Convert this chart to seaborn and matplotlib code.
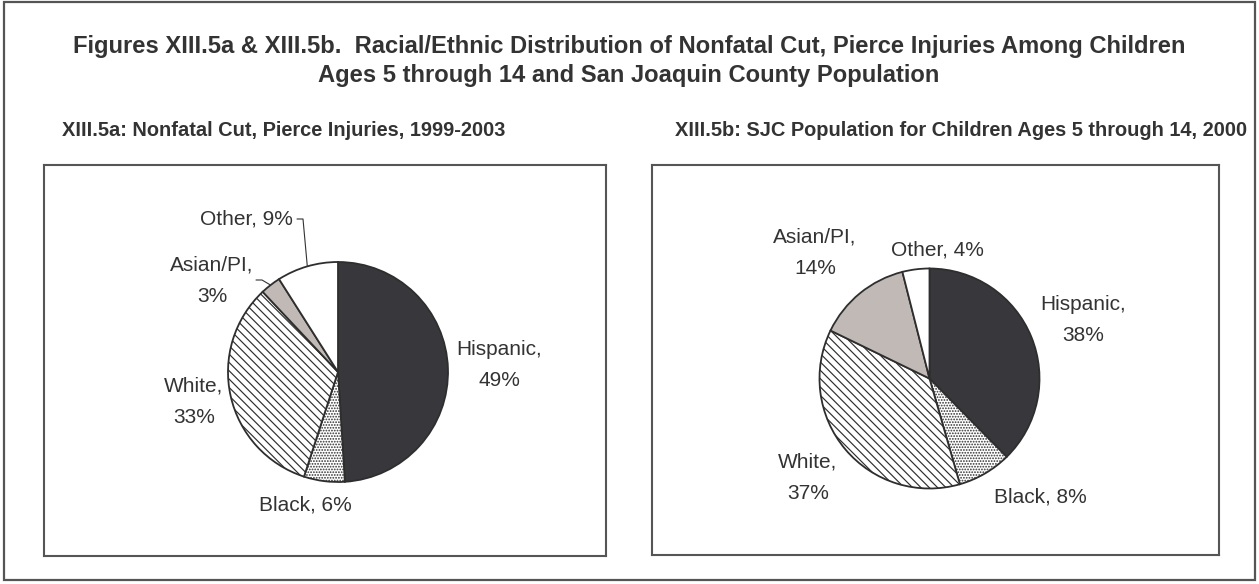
import numpy as np
import seaborn as sns
import matplotlib.pyplot as plt
from matplotlib.patches import Rectangle

# Data
groups = ["Hispanic", "Black", "White", "Asian/PI", "Other"]
injuries_pct = [49, 6, 33, 3, 9]
population_pct = [38, 8, 37, 14, 4]

title = ("Figures XIII.5a & XIII.5b.  Racial/Ethnic Distribution of Nonfatal Cut, "
         "Pierce Injuries Among Children\nAges 5 through 14 and San Joaquin County Population")
sub_a = "XIII.5a: Nonfatal Cut, Pierce Injuries, 1999-2003"
sub_b = "XIII.5b: SJC Population for Children Ages 5 through 14, 2000"

# Styles
colors = ["#38373b", "white", "white", "#c1b9b6", "white"]
hatches = [None, "......", "\\\\\\\\", None, None]
two_line = {"Hispanic": True, "Black": False, "White": True, "Asian/PI": True, "Other": False}

sns.set_theme(style="white")
plt.rcParams["font.family"] = ["Liberation Sans", "DejaVu Sans"]
plt.rcParams["hatch.linewidth"] = 0.85
plt.rcParams["hatch.color"] = "#2e2e2e"

W, H = 1259, 584
fig = plt.figure(figsize=(W / 100, H / 100), dpi=100)

# background axes in image pixel coords (y down)
bg = fig.add_axes([0, 0, 1, 1])
bg.set_xlim(0, W)
bg.set_ylim(H, 0)
bg.axis("off")
bg.add_patch(Rectangle((4, 2), 1251, 578, fill=False, edgecolor="#555555", lw=1.6))
bg.text(629, 61, title, ha="center", va="center", fontsize=17.1, fontweight="bold",
        color="#333333", linespacing=1.3)
bg.text(62, 130, sub_a, ha="left", va="center", fontsize=14.4, fontweight="bold", color="#333333")
bg.text(1247, 130, sub_b, ha="right", va="center", fontsize=14.4, fontweight="bold", color="#333333")


def panel(box, center, values, label_pos, leaders):
    x0, y0, x1, y1 = box
    ax = fig.add_axes([x0 / W, (H - y1) / H, (x1 - x0) / W, (y1 - y0) / H])
    cx, cy = center[0], H - center[1]
    r = 110
    wedges, _ = ax.pie(values, colors=colors, startangle=90, counterclock=False,
                       center=(cx, cy), radius=r,
                       wedgeprops=dict(edgecolor="#2e2e2e", linewidth=1.3))
    for w, h in zip(wedges, hatches):
        if h:
            w.set_hatch(h)
    ax.set_xlim(x0, x1)
    ax.set_ylim(H - y1, H - y0)
    ax.set_frame_on(True)
    for s in ax.spines.values():
        s.set_visible(True)
        s.set_color("#555555")
        s.set_linewidth(1.5)

    for g, v, (lx, ly) in zip(groups, values, label_pos):
        sep = "\n" if two_line[g] else " "
        ax.text(lx, H - ly, f"{g},{sep}{v}%", ha="center", va="center", fontsize=15,
                color="#333333", linespacing=1.82)

    # leader lines to the wedge mid-angle on the rim
    for i, (ax_, ay_) in leaders.items():
        w = wedges[i]
        mid = np.deg2rad((w.theta1 + w.theta2) / 2)
        ex, ey = cx + r * np.cos(mid), cy + r * np.sin(mid)
        ax.plot([ax_, ax_ + 6, ex], [H - ay_, H - ay_, ey], color="#333333", lw=0.8)
    return ax


panel((44, 165, 606, 556), (338, 372), injuries_pct,
      [(499, 365), (305, 505), (194, 402), (212, 281), (246, 219)],
      {3: (256, 280), 4: (297, 219)})
panel((652, 165, 1219, 555), (929.5, 378.5), population_pct,
      [(1083, 320), (1040, 497), (808, 478), (815, 253), (937, 250)],
      {})

plt.savefig("out.png", dpi=100)
